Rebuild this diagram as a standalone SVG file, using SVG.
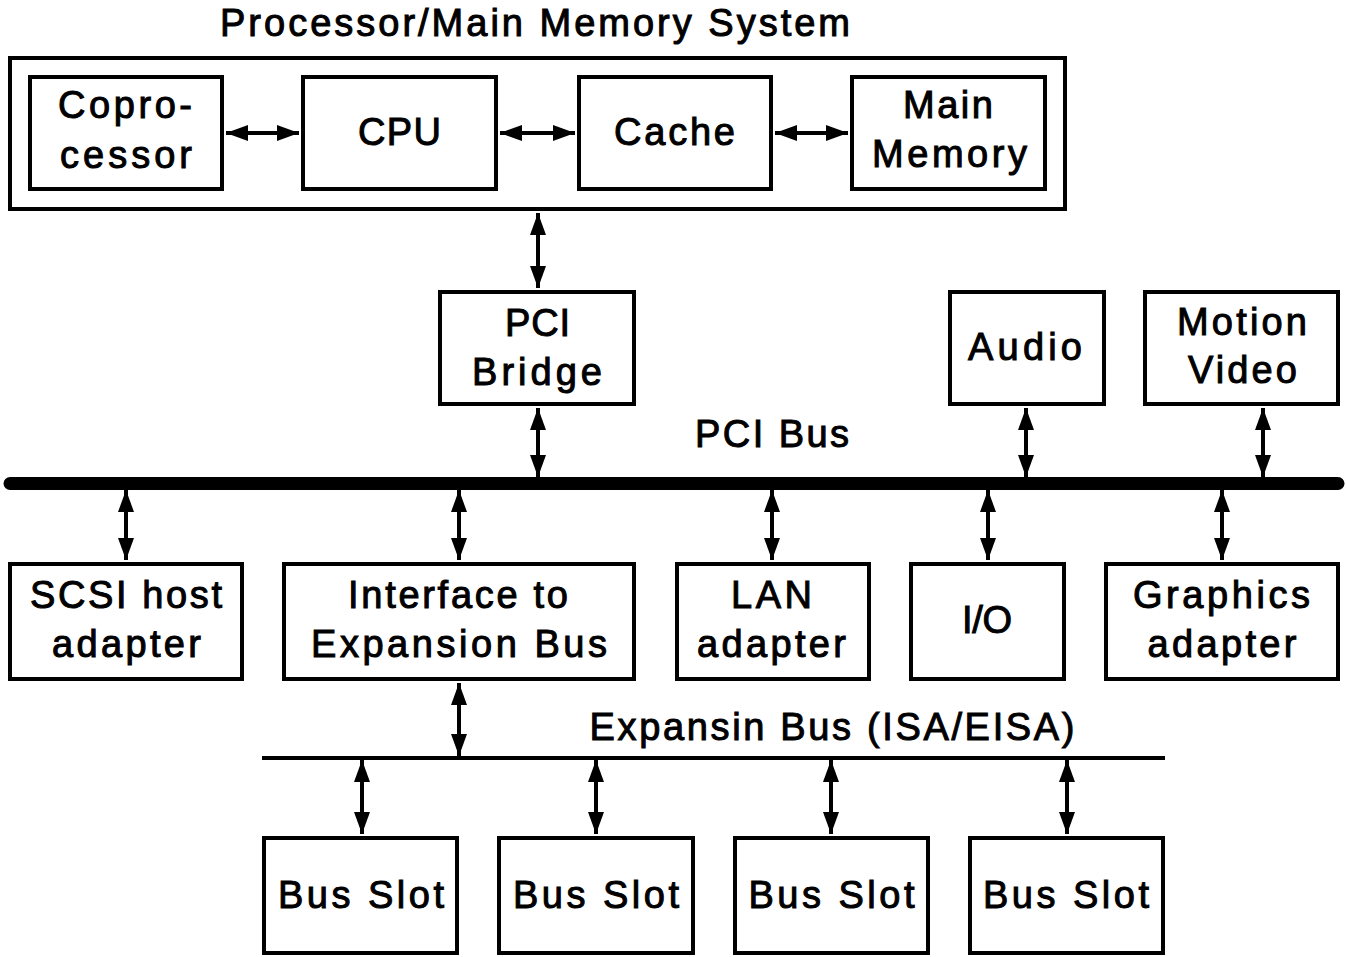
<svg xmlns="http://www.w3.org/2000/svg" width="1346" height="957" viewBox="0 0 1346 957">
  <style>
    .box { fill: #fff; stroke: #000; stroke-width: 4; }
    .lbl { font-family: "Liberation Sans", Arial, sans-serif; font-weight: normal; font-size: 38px; fill: #000; stroke: #000; stroke-width: 1; text-anchor: middle; }
    .conn { stroke: #000; stroke-width: 4; fill: none; marker-start: url(#ah); marker-end: url(#ah); }
    .bus { stroke: #000; fill: none; }
  </style>
  <defs>
    <marker id="ah" viewBox="0 0 22 16" refX="22" refY="8" markerWidth="22" markerHeight="16" markerUnits="userSpaceOnUse" orient="auto-start-reverse">
      <path d="M0,0 L22,8 L0,16 z" fill="#000"/>
    </marker>
  </defs>
  <rect width="1346" height="957" fill="#fff"/>

  <!-- Processor / main memory subsystem -->
  <g id="system">
    <rect class="box" x="10" y="58" width="1055" height="151" fill="none"/>
    <text class="lbl" x="535" y="36" textLength="630" lengthAdjust="spacing">Processor/Main Memory System</text>
  </g>
  <g id="coprocessor">
    <rect class="box" x="30" y="77" width="192" height="112"/>
    <text class="lbl" x="125" y="118" textLength="134" lengthAdjust="spacing">Copro-</text>
    <text class="lbl" x="126" y="168" textLength="132" lengthAdjust="spacing">cessor</text>
  </g>
  <g id="cpu">
    <rect class="box" x="303" y="77" width="193" height="112"/>
    <text class="lbl" x="399.5" y="145" textLength="83" lengthAdjust="spacing">CPU</text>
  </g>
  <g id="cache">
    <rect class="box" x="579" y="77" width="192" height="112"/>
    <text class="lbl" x="674.5" y="145" textLength="121" lengthAdjust="spacing">Cache</text>
  </g>
  <g id="main-memory">
    <rect class="box" x="852" y="77" width="193" height="112"/>
    <text class="lbl" x="948" y="118" textLength="90" lengthAdjust="spacing">Main</text>
    <text class="lbl" x="949.5" y="167" textLength="155" lengthAdjust="spacing">Memory</text>
  </g>

  <!-- PCI level -->
  <g id="pci-bridge">
    <rect class="box" x="440" y="292" width="194" height="112"/>
    <text class="lbl" x="537.5" y="336" textLength="65" lengthAdjust="spacing">PCI</text>
    <text class="lbl" x="537" y="385" textLength="130" lengthAdjust="spacing">Bridge</text>
  </g>
  <g id="audio">
    <rect class="box" x="950" y="292" width="154" height="112"/>
    <text class="lbl" x="1025" y="360" textLength="114" lengthAdjust="spacing">Audio</text>
  </g>
  <g id="motion-video">
    <rect class="box" x="1145" y="292" width="193" height="112"/>
    <text class="lbl" x="1242" y="335" textLength="130" lengthAdjust="spacing">Motion</text>
    <text class="lbl" x="1242.5" y="383" textLength="109" lengthAdjust="spacing">Video</text>
  </g>
  <g id="pci-bus">
    <line class="bus" x1="10" y1="483.5" x2="1338" y2="483.5" stroke-width="13" stroke-linecap="round"/>
    <text class="lbl" x="772" y="447" textLength="154" lengthAdjust="spacing">PCI Bus</text>
  </g>

  <!-- Devices on the PCI bus -->
  <g id="scsi">
    <rect class="box" x="10" y="564" width="232" height="115"/>
    <text class="lbl" x="126" y="608" textLength="192" lengthAdjust="spacing">SCSI host</text>
    <text class="lbl" x="126.5" y="657" textLength="149" lengthAdjust="spacing">adapter</text>
  </g>
  <g id="expansion-interface">
    <rect class="box" x="284" y="564" width="350" height="115"/>
    <text class="lbl" x="458" y="608" textLength="220" lengthAdjust="spacing">Interface to</text>
    <text class="lbl" x="459" y="657" textLength="296" lengthAdjust="spacing">Expansion Bus</text>
  </g>
  <g id="lan">
    <rect class="box" x="677" y="564" width="192" height="115"/>
    <text class="lbl" x="771.5" y="608" textLength="81" lengthAdjust="spacing">LAN</text>
    <text class="lbl" x="771.5" y="657" textLength="149" lengthAdjust="spacing">adapter</text>
  </g>
  <g id="io">
    <rect class="box" x="911" y="564" width="153" height="115"/>
    <text class="lbl" x="987" y="633" textLength="50" lengthAdjust="spacing">I/O</text>
  </g>
  <g id="graphics">
    <rect class="box" x="1106" y="564" width="232" height="115"/>
    <text class="lbl" x="1221.5" y="608" textLength="177" lengthAdjust="spacing">Graphics</text>
    <text class="lbl" x="1222" y="657" textLength="149" lengthAdjust="spacing">adapter</text>
  </g>

  <!-- Expansion bus and slots -->
  <g id="expansion-bus">
    <line class="bus" x1="262" y1="758" x2="1165" y2="758" stroke-width="4"/>
    <text class="lbl" x="832" y="740" textLength="485" lengthAdjust="spacing">Expansin Bus (ISA/EISA)</text>
  </g>
  <g id="slot-1">
    <rect class="box" x="264" y="838" width="193" height="115"/>
    <text class="lbl" x="361" y="908" textLength="166" lengthAdjust="spacing">Bus Slot</text>
  </g>
  <g id="slot-2">
    <rect class="box" x="499" y="838" width="194" height="115"/>
    <text class="lbl" x="596" y="908" textLength="166" lengthAdjust="spacing">Bus Slot</text>
  </g>
  <g id="slot-3">
    <rect class="box" x="735" y="838" width="193" height="115"/>
    <text class="lbl" x="831.5" y="908" textLength="166" lengthAdjust="spacing">Bus Slot</text>
  </g>
  <g id="slot-4">
    <rect class="box" x="970" y="838" width="193" height="115"/>
    <text class="lbl" x="1066" y="908" textLength="166" lengthAdjust="spacing">Bus Slot</text>
  </g>

  <!-- Connectors: all bidirectional -->
  <g id="connectors">
    <line class="conn" x1="226" y1="133" x2="299" y2="133"/>
    <line class="conn" x1="500" y1="133" x2="575" y2="133"/>
    <line class="conn" x1="775" y1="133" x2="848" y2="133"/>
    <line class="conn" x1="538" y1="213" x2="538" y2="288"/>
    <line class="conn" x1="538" y1="408" x2="538" y2="477"/>
    <line class="conn" x1="1026" y1="408" x2="1026" y2="477"/>
    <line class="conn" x1="1263" y1="408" x2="1263" y2="477"/>
    <line class="conn" x1="126" y1="490" x2="126" y2="560"/>
    <line class="conn" x1="459" y1="490" x2="459" y2="560"/>
    <line class="conn" x1="772" y1="490" x2="772" y2="560"/>
    <line class="conn" x1="988" y1="490" x2="988" y2="560"/>
    <line class="conn" x1="1222" y1="490" x2="1222" y2="560"/>
    <line class="conn" x1="459" y1="683" x2="459" y2="756"/>
    <line class="conn" x1="362" y1="760" x2="362" y2="834"/>
    <line class="conn" x1="596" y1="760" x2="596" y2="834"/>
    <line class="conn" x1="831" y1="760" x2="831" y2="834"/>
    <line class="conn" x1="1067" y1="760" x2="1067" y2="834"/>
  </g>
</svg>
